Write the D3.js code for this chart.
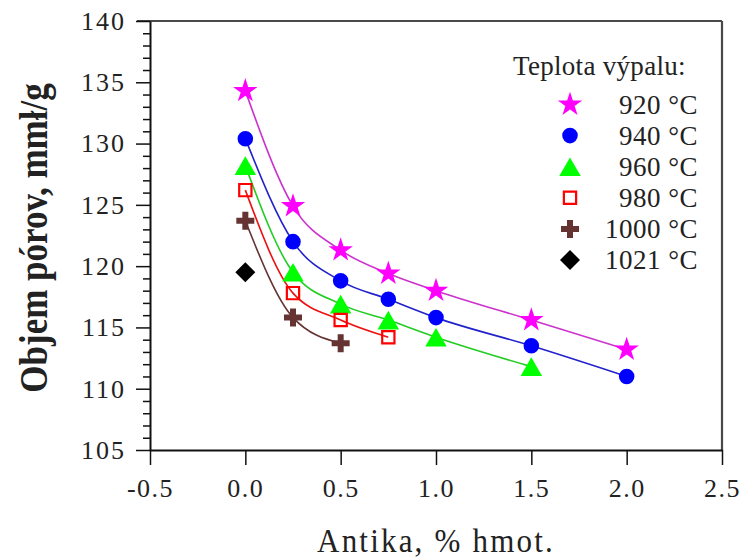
<!DOCTYPE html>
<html><head><meta charset="utf-8">
<script src="https://cdn.jsdelivr.net/npm/d3@7"></script>
<style>
body{margin:0;background:#fff;}
text{font-family:"Liberation Serif","Times New Roman",serif;fill:#222;}
</style>
</head><body>
<svg id="c" width="751" height="560"></svg>
<script>
// ---- data ----
const xValues = [0, 0.25, 0.5, 0.75, 1.0, 1.5, 2.0];
const v920  = [134.3, 124.9, 121.3, 119.4, 118.0, 115.6, 113.2];
const v940  = [130.4, 122.0, 118.8, 117.3, 115.8, 113.5, 111.0];
const v960  = [128.2, 119.5, 116.9, 115.6, 114.2, 111.8];
const v980  = [126.2, 117.8, 115.6, 114.2];
const v1000 = [123.7, 115.8, 113.7];
const v1021 = [119.5];
const seriesNames = ["920 °C", "940 °C", "960 °C", "980 °C", "1000 °C", "1021 °C"];
const xTicks = [-0.5, 0, 0.5, 1.0, 1.5, 2.0, 2.5];
const yTicks = [105, 110, 115, 120, 125, 130, 135, 140];
const legendTitle = "Teplota výpalu:";
const xTitle = "Antika, % hmot.";
const yTitle = "Objem pórov, mmł/g";

// ---- styles ----
const styles = [
  {sym: d3.symbolStar,     size: 185, fill: "#ff00ff", stroke: "none", line: "#cc33cc"},
  {sym: d3.symbolCircle,   size: 190, fill: "#0000ff", stroke: "none", line: "#2222cc"},
  {sym: d3.symbolTriangle, size: 200, fill: "#00ff00", stroke: "none", line: "#22cc22", tri: true},
  {sym: d3.symbolSquare,   size: 150, fill: "none",    stroke: "#ff0000", line: "#ee1111"},
  {sym: d3.symbolCross,    size: 180, fill: "#663333", stroke: "none", line: "#663333"},
  {sym: d3.symbolSquare,   size: 200, fill: "#000000", stroke: "none", line: "none", rot: 45}
];
const allValues = [v920, v940, v960, v980, v1000, v1021];
const series = allValues.map((vals, i) => ({
  name: seriesNames[i],
  style: styles[i],
  pts: vals.map((v, j) => ({x: xValues[j], y: v}))
}));

const svg = d3.select("#c");
const x = d3.scaleLinear().domain([-0.5, 2.5]).range([150, 722]);
const y = d3.scaleLinear().domain([105, 140]).range([450, 21]);

// frame top/right
svg.append("line").attr("x1", 137).attr("x2", x(2.5)).attr("y1", y(140)).attr("y2", y(140))
  .attr("stroke", "#4a4a4a").attr("stroke-width", 2.2);
svg.append("line").attr("x1", x(2.5)).attr("x2", x(2.5)).attr("y1", y(140)).attr("y2", y(105))
  .attr("stroke", "#4a4a4a").attr("stroke-width", 2.2);

// minor y ticks
const minor = d3.range(105, 141, 1).filter(d => d % 5 !== 0);
svg.append("g").attr("transform", `translate(${x(-0.5)},0)`)
  .call(d3.axisLeft(y).tickValues(minor).tickSize(7).tickFormat("").tickSizeOuter(0))
  .call(g => g.select(".domain").remove())
  .selectAll("line").attr("stroke", "#111").attr("stroke-width", 1.5);

// y axis
const gy = svg.append("g").attr("transform", `translate(${x(-0.5)},0)`)
  .call(d3.axisLeft(y).tickValues(yTicks).tickSize(14).tickPadding(10).tickSizeOuter(0).tickFormat(d3.format("d")));
gy.select(".domain").attr("stroke", "#111").attr("stroke-width", 2);
gy.selectAll(".tick line").attr("stroke", "#111").attr("stroke-width", 1.5);
gy.selectAll("text").attr("font-size", 26).attr("letter-spacing", 2).attr("fill", "#222")
  .style("font-family", '"Liberation Serif", serif');

// x axis
const gx = svg.append("g").attr("transform", `translate(0,${y(105)})`)
  .call(d3.axisBottom(x).tickValues(xTicks).tickSize(15).tickPadding(14).tickSizeOuter(0).tickFormat(d => d.toFixed(1)));
gx.select(".domain").attr("stroke", "#111").attr("stroke-width", 2);
gx.selectAll(".tick line").attr("stroke", "#111").attr("stroke-width", 1.5);
gx.selectAll("text").attr("font-size", 26).attr("letter-spacing", 1.5).attr("fill", "#222")
  .style("font-family", '"Liberation Serif", serif');

// lines
const line = d3.line().x(d => x(d.x)).y(d => y(d.y)).curve(d3.curveMonotoneX);
series.filter(s => s.pts.length > 1).forEach(s => {
  svg.append("path").attr("d", line(s.pts)).attr("fill", "none")
    .attr("stroke", s.style.line).attr("stroke-width", 1.6);
});

function symTransform(st, cx, cy) {
  let dy = 0;
  if (st.tri) dy = Math.sqrt(st.size / (3 * Math.sqrt(3))) / 2;
  return `translate(${cx},${cy + dy})` + (st.rot ? ` rotate(${st.rot})` : "");
}

// markers
series.forEach(s => {
  const st = s.style;
  svg.append("g").selectAll("path").data(s.pts).join("path")
    .attr("d", d3.symbol(st.sym, st.size))
    .attr("transform", d => symTransform(st, x(d.x), y(d.y)))
    .attr("fill", st.fill).attr("stroke", st.stroke).attr("stroke-width", st.stroke === "none" ? 0 : 2.2);
});

// legend
const lg = svg.append("g");
lg.append("text").attr("x", 513).attr("y", 75).attr("font-size", 27).attr("letter-spacing", 0.3).text(legendTitle);
series.forEach((s, i) => {
  const cy = 104.5 + i * 31.1;
  const st = s.style;
  lg.append("path").attr("d", d3.symbol(st.sym, st.size))
    .attr("transform", symTransform(st, 570, cy))
    .attr("fill", st.fill).attr("stroke", st.stroke).attr("stroke-width", st.stroke === "none" ? 0 : 2.2);
  lg.append("text").attr("x", 698).attr("y", cy).attr("dy", "0.34em").attr("text-anchor", "end")
    .attr("font-size", 27).attr("letter-spacing", 0.5).text(s.name);
});

// axis titles
svg.append("text").attr("transform", "translate(436,552) scale(1,1.08)").attr("text-anchor", "middle")
  .attr("font-size", 31).attr("letter-spacing", 2.2).text(xTitle);
svg.append("text").attr("transform", "translate(47,238) rotate(-90) scale(1,1.12)")
  .attr("text-anchor", "middle").attr("font-size", 35).attr("font-weight", "bold").text(yTitle);
</script>
</body></html>
